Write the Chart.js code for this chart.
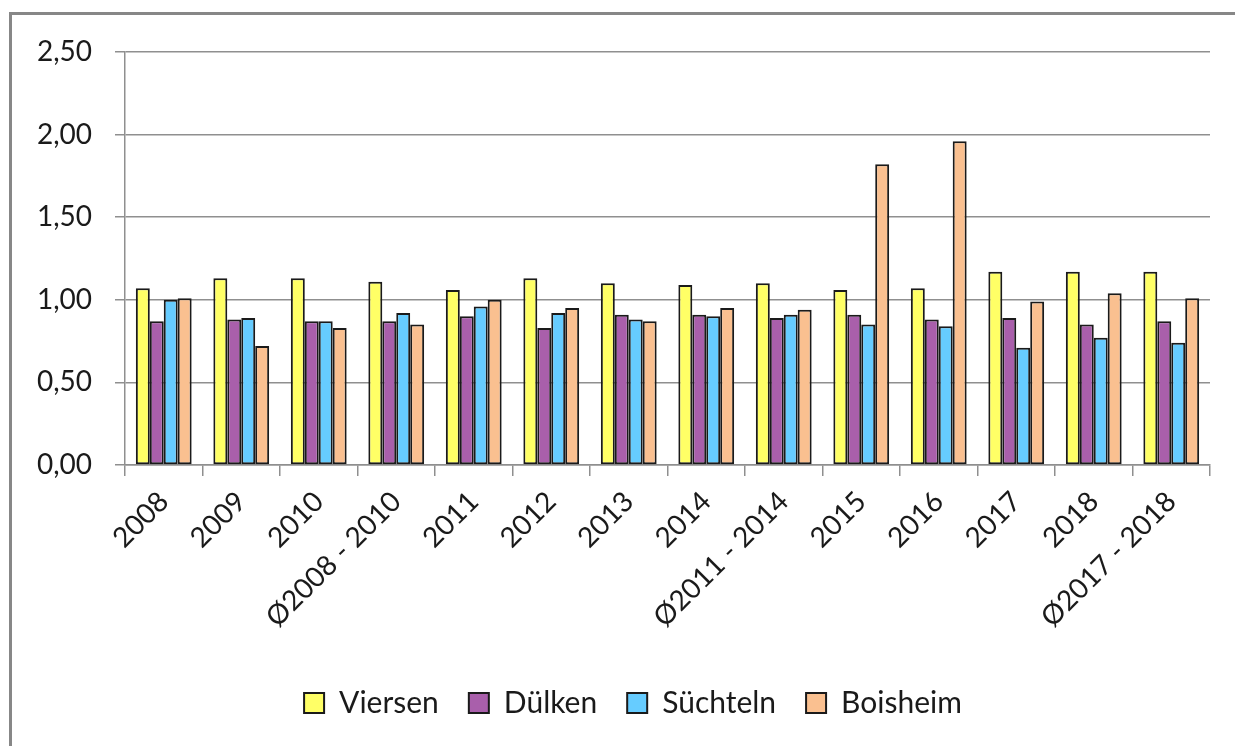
<!DOCTYPE html>
<html>
<head>
<meta charset="utf-8">
<script src="https://cdn.jsdelivr.net/npm/chart.js@4.4.1/dist/chart.umd.min.js"></script>
<style>
    html, body { margin: 0; padding: 0; background: #fff; overflow: hidden; }
    #frame {
        position: absolute; left: 9px; top: 12px; width: 1300px; height: 800px;
        border-left: 3px solid #878787; border-top: 3px solid #878787;
    }
    #chart { position: absolute; left: 0; top: 0; }
</style>
</head>
<body>
<div id="frame"></div>
<canvas id="chart" width="1235" height="746"></canvas>
<script>
// 카테고리 / 값
const categories = ['2008', '2009', '2010', 'Ø2008 - 2010', '2011', '2012', '2013', '2014',
    'Ø2011 - 2014', '2015', '2016', '2017', '2018', 'Ø2017 - 2018'];
const viersen   = [1.07, 1.13, 1.13, 1.11, 1.06, 1.13, 1.10, 1.09, 1.10, 1.06, 1.07, 1.17, 1.17, 1.17];
const duelken   = [0.87, 0.88, 0.87, 0.87, 0.90, 0.83, 0.91, 0.91, 0.89, 0.91, 0.88, 0.89, 0.85, 0.87];
const suechteln = [1.00, 0.89, 0.87, 0.92, 0.96, 0.92, 0.88, 0.90, 0.91, 0.85, 0.84, 0.71, 0.77, 0.74];
const boisheim  = [1.01, 0.72, 0.83, 0.85, 1.00, 0.95, 0.87, 0.95, 0.94, 1.82, 1.96, 0.99, 1.04, 1.01];
const yTicks = [0, 0.5, 1, 1.5, 2, 2.5];

const FONT = 'Lato, "Liberation Sans", sans-serif';
const gridColor = '#8f8f8f';

function series(label, data, color) {
    return {
        label: label,
        data: data,
        backgroundColor: color,
        borderColor: '#1a1a1a',
        borderWidth: 2,
        borderSkipped: false,
        categoryPercentage: 0.72,
        barPercentage: 1.0
    };
}

// 범례를 오른쪽으로 살짝 이동
const legendShift = {
    id: 'legendShift',
    afterLayout(chart) {
        chart.legend.left += 28;
        chart.legend.right += 28;
    }
};

const ctx = document.getElementById('chart').getContext('2d');
new Chart(ctx, {
    type: 'bar',
    data: {
        labels: categories,
        datasets: [
            series('Viersen', viersen, '#ffff66'),
            series('Dülken', duelken, '#a95fab'),
            series('Süchteln', suechteln, '#66ccff'),
            series('Boisheim', boisheim, '#fac090')
        ]
    },
    plugins: [legendShift],
    options: {
        responsive: false,
        animation: false,
        layout: { padding: { top: 52, right: 25, left: 0, bottom: 18 } },
        scales: {
            x: {
                offset: true,
                afterFit: scale => { scale.height = 193; },
                grid: {
                    offset: true,
                    drawOnChartArea: false,
                    drawTicks: true,
                    tickLength: 11,
                    color: gridColor,
                    lineWidth: 1.5
                },
                border: { color: gridColor, width: 1.5 },
                ticks: {
                    autoSkip: false,
                    maxRotation: 45,
                    minRotation: 45,
                    padding: 9,
                    color: '#1a1a1a',
                    font: { family: FONT, size: 28 }
                }
            },
            y: {
                min: 0,
                max: 2.5,
                afterFit: scale => { scale.width = 125; },
                afterBuildTicks: scale => { scale.ticks = yTicks.map(v => ({ value: v })); },
                grid: {
                    color: gridColor,
                    lineWidth: 1.5,
                    drawTicks: true,
                    tickLength: 10
                },
                border: { color: gridColor, width: 1.5 },
                ticks: {
                    padding: 23,
                    color: '#1a1a1a',
                    font: { family: FONT, size: 28 },
                    callback: v => v.toFixed(2).replace('.', ',')
                }
            }
        },
        plugins: {
            legend: {
                position: 'bottom',
                labels: {
                    boxWidth: 20,
                    boxHeight: 20,
                    padding: 30,
                    color: '#1a1a1a',
                    font: { family: FONT, size: 30 }
                }
            },
            tooltip: { enabled: false }
        }
    }
});
</script>
</body>
</html>
